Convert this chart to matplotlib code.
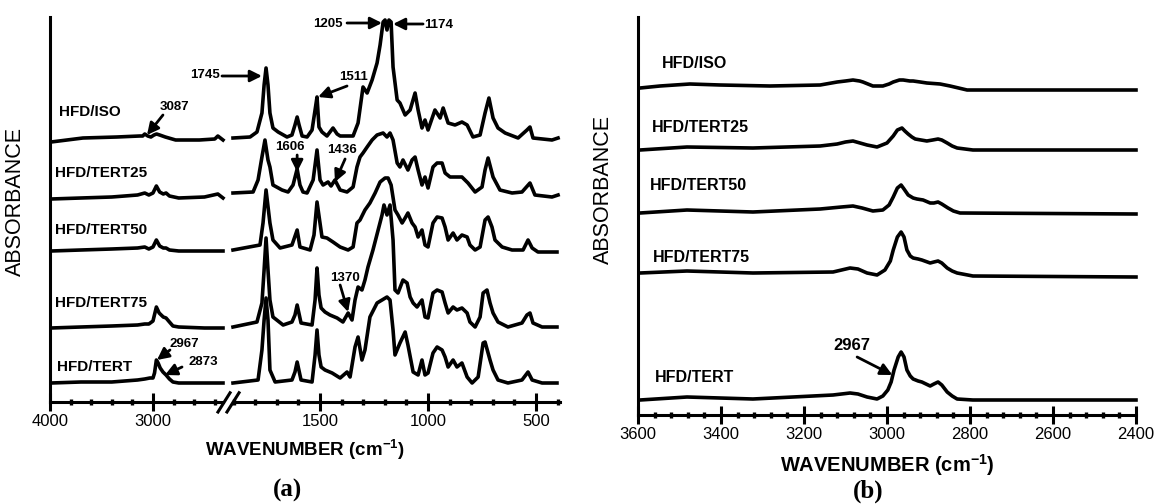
import matplotlib
matplotlib.use("Agg")
import matplotlib.pyplot as plt
import numpy as np

plt.rcParams['font.family'] = ['Liberation Sans', 'DejaVu Sans']
plt.rcParams['mathtext.fontset'] = 'custom'
plt.rcParams['mathtext.rm'] = 'Liberation Sans'
plt.rcParams['mathtext.bf'] = 'Liberation Sans:bold'

names = ['HFD/ISO', 'HFD/TERT25', 'HFD/TERT50', 'HFD/TERT75', 'HFD/TERT']
# vertical stacking of the spectra (a.u.)
offsets_a = [262, 205, 150, 75, 19]
offsets_b = [327, 265, 202, 142, 15]

# ---- (a) 4000-2320 cm-1 ----
iso_hi_wn = [3990, 3680, 3350, 3130, 3100, 3080, 3050, 3020, 2990, 2965, 2935, 2880, 2780, 2550, 2400, 2370, 2320]
iso_hi_abs = [-2, 2, 3, 4, 4, 6, 4, 3, 5, 6, 5, 3, 0, 0, 1, 4, 0]
t25_hi_wn = [3990, 3700, 3400, 3150, 3080, 3040, 3000, 2967, 2935, 2900, 2873, 2840, 2750, 2500, 2370, 2320]
t25_hi_abs = [-2, -1, 0, 2, 4, 2, 4, 11, 5, 3, 4, 1, -1, 0, 3, -1]
t50_hi_wn = [3990, 3700, 3400, 3150, 3080, 3040, 3000, 2967, 2935, 2900, 2873, 2840, 2750, 2500, 2320]
t50_hi_abs = [1, 2, 3, 4, 5, 3, 5, 12, 6, 4, 4, 2, 1, 1, 1]
t75_hi_wn = [3990, 3700, 3400, 3150, 3080, 3040, 3000, 2967, 2940, 2920, 2900, 2873, 2840, 2806, 2750, 2500, 2320]
t75_hi_abs = [-1, 0, 1, 2, 3, 3, 6, 20, 14, 12, 10, 9, 5, 1, 0, -1, -1]
tert_hi_wn = [3990, 3700, 3400, 3150, 3080, 3030, 3000, 2985, 2967, 2950, 2930, 2903, 2873, 2840, 2806, 2750, 2500, 2320]
tert_hi_abs = [0, 1, 1, 3, 4, 5, 5, 10, 23, 20, 15, 11, 8, 4, 1, 0, 0, 0]

# ---- (a) 1900-400 cm-1 ----
iso_lo_wn = [1903, 1824, 1792, 1769, 1759, 1750, 1741, 1732, 1718, 1694, 1653, 1630, 1616, 1606, 1597, 1583, 1560,
             1537, 1523, 1514, 1505, 1491, 1468, 1440, 1421, 1407, 1347, 1324, 1301, 1282, 1259, 1236, 1222, 1208,
             1199, 1190, 1181, 1171, 1162, 1143, 1130, 1106, 1083, 1060, 1046, 1028, 1014, 1000, 968, 944, 930, 907,
             875, 843, 819, 792, 759, 736, 718, 699, 676, 643, 583, 542, 528, 514, 426, 398]
iso_lo_abs = [2, 3, 8, 27, 55, 72, 55, 27, 12, 8, 3, 5, 15, 23, 15, 4, 3, 10, 30, 43, 13, 8, 4, 12, 6, 4, 4, 17, 53,
              47, 60, 77, 95, 118, 120, 110, 120, 118, 73, 40, 37, 25, 30, 47, 30, 12, 20, 10, 30, 22, 32, 17, 15, 18,
              15, 3, 5, 27, 42, 22, 12, 7, 2, 10, 13, 2, 0, 2]
t25_lo_wn = [1903, 1810, 1787, 1769, 1755, 1741, 1732, 1718, 1676, 1648, 1625, 1606, 1593, 1579, 1560, 1532, 1514,
             1500, 1486, 1463, 1449, 1431, 1407, 1375, 1347, 1329, 1315, 1301, 1282, 1259, 1236, 1208, 1190, 1176,
             1162, 1143, 1130, 1116, 1093, 1074, 1060, 1046, 1028, 1014, 1000, 977, 958, 935, 921, 898, 866, 843,
             815, 782, 750, 736, 722, 699, 667, 611, 565, 528, 505, 426, 398]
t25_lo_abs = [4, 5, 17, 40, 57, 37, 30, 12, 7, 5, 12, 28, 12, 5, 4, 17, 47, 17, 12, 15, 11, 17, 7, 5, 10, 30, 40, 44,
              50, 57, 62, 64, 60, 64, 57, 34, 30, 37, 27, 37, 40, 27, 12, 20, 9, 30, 34, 34, 24, 20, 20, 20, 14, 5,
              10, 27, 39, 20, 7, 4, 5, 14, 2, 0, 2]
t50_lo_wn = [1903, 1778, 1764, 1750, 1732, 1718, 1685, 1630, 1606, 1593, 1546, 1528, 1514, 1491, 1468, 1440, 1407,
             1370, 1347, 1329, 1315, 1292, 1269, 1245, 1222, 1199, 1185, 1171, 1153, 1139, 1120, 1106, 1093, 1074,
             1060, 1046, 1028, 1014, 1000, 977, 958, 935, 921, 907, 884, 866, 843, 819, 806, 782, 759, 736, 722,
             704, 690, 657, 611, 560, 537, 518, 491, 403]
t50_lo_abs = [2, 7, 29, 62, 29, 12, 4, 7, 22, 5, 2, 17, 50, 15, 14, 10, 5, 2, 5, 29, 32, 42, 49, 59, 70, 74, 74, 67,
              42, 37, 29, 34, 39, 29, 25, 15, 22, 7, 5, 29, 35, 34, 25, 12, 19, 12, 17, 15, 7, 2, 5, 32, 35, 25, 12,
              5, 2, 2, 12, 4, 0, 0]
t75_lo_wn = [1903, 1792, 1769, 1759, 1750, 1741, 1732, 1718, 1671, 1630, 1616, 1606, 1588, 1537, 1523, 1514, 1505,
             1495, 1477, 1454, 1421, 1394, 1370, 1352, 1338, 1324, 1306, 1292, 1278, 1255, 1231, 1213, 1204, 1190,
             1176, 1162, 1153, 1139, 1116, 1097, 1083, 1069, 1051, 1028, 1014, 1000, 977, 958, 935, 921, 907, 884,
             866, 843, 819, 806, 782, 759, 745, 727, 713, 699, 676, 630, 565, 542, 528, 514, 472, 403]
t75_lo_abs = [0, 5, 24, 57, 89, 57, 27, 10, 2, 5, 12, 22, 4, 2, 27, 59, 32, 19, 15, 12, 9, 5, 14, 7, 27, 40, 37, 47,
              60, 77, 97, 112, 122, 112, 122, 87, 37, 34, 47, 44, 30, 24, 20, 27, 10, 9, 34, 37, 35, 24, 14, 20, 17,
              19, 14, 5, 0, 10, 34, 37, 24, 14, 5, 0, 4, 12, 14, 4, 0, 0]
tert_lo_wn = [1903, 1787, 1769, 1759, 1750, 1741, 1732, 1708, 1630, 1616, 1606, 1588, 1537, 1523, 1514, 1505, 1495,
              1477, 1444, 1407, 1375, 1361, 1338, 1324, 1306, 1292, 1269, 1236, 1213, 1190, 1176, 1162, 1153, 1130,
              1106, 1093, 1069, 1046, 1028, 1014, 1000, 977, 958, 935, 921, 907, 884, 866, 843, 819, 796, 768, 745,
              736, 713, 699, 676, 630, 565, 537, 518, 472, 403]
tert_lo_abs = [0, 3, 33, 63, 85, 63, 13, 1, 3, 11, 21, 3, 1, 28, 53, 28, 16, 13, 10, 5, 11, 6, 36, 46, 23, 33, 66,
               80, 83, 86, 83, 53, 28, 40, 51, 38, 11, 8, 23, 8, 10, 30, 36, 33, 26, 16, 23, 16, 20, 6, 0, 6, 40, 41,
               23, 13, 3, 0, 3, 11, 3, 0, 0]

# ---- (b) 3600-2400 cm-1 ----
iso_b_wn = [3595, 3547, 3475, 3402, 3282, 3161, 3120, 3100, 3082, 3066, 3058, 3034, 3010, 2995, 2985, 2970, 2961,
            2945, 2937, 2920, 2904, 2872, 2860, 2848, 2807, 2720, 2400]
iso_b_abs = [0, 2, 4, 3, 2, 3, 6, 7, 8, 7, 6, 2, 2, 4, 6, 8, 8, 7, 7, 6, 5, 4, 3, 2, -2, -2, -2]
t25_b_wn = [3595, 3482, 3323, 3161, 3120, 3100, 3082, 3065, 3048, 3024, 3000, 2985, 2975, 2964, 2957, 2949, 2940,
            2932, 2904, 2890, 2877, 2868, 2855, 2843, 2831, 2793, 2400]
t25_b_abs = [0, 3, 2, 4, 6, 8, 9, 7, 5, 3, 7, 14, 20, 22, 19, 16, 13, 11, 9, 10, 11, 10, 7, 4, 2, 0, 0]
t50_b_wn = [3595, 3482, 3323, 3161, 3110, 3082, 3060, 3034, 3010, 2995, 2985, 2975, 2966, 2959, 2949, 2937, 2928,
            2913, 2896, 2887, 2877, 2868, 2853, 2840, 2824, 2400]
t50_b_abs = [0, 3, 1, 4, 6, 7, 5, 2, 3, 8, 16, 25, 28, 24, 18, 15, 14, 13, 10, 10, 11, 9, 5, 2, 0, -1]
t75_b_wn = [3595, 3482, 3323, 3130, 3089, 3070, 3048, 3024, 3005, 2992, 2985, 2975, 2966, 2959, 2952, 2944, 2937,
            2925, 2916, 2896, 2887, 2877, 2868, 2855, 2843, 2831, 2793, 2400]
t75_b_abs = [0, 2, 0, 1, 5, 4, 0, -2, 3, 12, 23, 36, 41, 36, 23, 17, 15, 14, 13, 10, 11, 12, 10, 5, 2, 0, -3, -4]
tert_b_wn = [3595, 3482, 3323, 3130, 3089, 3070, 3048, 3024, 3010, 2998, 2990, 2983, 2973, 2966, 2959, 2952, 2944,
             2937, 2925, 2916, 2896, 2887, 2877, 2868, 2855, 2843, 2831, 2793, 2400]
tert_b_abs = [0, 3, 1, 5, 7, 6, 3, 1, 4, 10, 18, 30, 43, 48, 43, 30, 24, 21, 19, 18, 14, 16, 18, 15, 8, 4, 1, 0, 0]

hi = [(iso_hi_wn, iso_hi_abs), (t25_hi_wn, t25_hi_abs), (t50_hi_wn, t50_hi_abs),
      (t75_hi_wn, t75_hi_abs), (tert_hi_wn, tert_hi_abs)]
lo = [(iso_lo_wn, iso_lo_abs), (t25_lo_wn, t25_lo_abs), (t50_lo_wn, t50_lo_abs),
      (t75_lo_wn, t75_lo_abs), (tert_lo_wn, tert_lo_abs)]
spec_b = [(iso_b_wn, iso_b_abs), (t25_b_wn, t25_b_abs), (t50_b_wn, t50_b_abs),
          (t75_b_wn, t75_b_abs), (tert_b_wn, tert_b_abs)]

W, H = 1156, 504
fig = plt.figure(figsize=(W / 100, H / 100), dpi=100)


def px_axes(x0, x1, ytop, ybot):
    return fig.add_axes([x0 / W, 1 - ybot / H, (x1 - x0) / W, (ybot - ytop) / H])


ax_hi = px_axes(50, 223, 17, 402)
ax_lo = px_axes(233, 560, 17, 402)
ax_b = px_axes(638, 1136, 17, 415)

LW = 2.6
for ax in (ax_hi, ax_lo, ax_b):
    for s in ('top', 'right'):
        ax.spines[s].set_visible(False)
    ax.spines['bottom'].set_linewidth(2.2)
    ax.spines['left'].set_linewidth(2.2)
    ax.tick_params(axis='y', left=False, labelleft=False)
    ax.tick_params(axis='x', which='major', direction='inout', length=13, width=2.2,
                   labelsize=12, pad=2)
    ax.tick_params(axis='x', which='minor', direction='inout', length=4.5, width=2.4)
ax_lo.spines['left'].set_visible(False)

for (wn, a), off in zip(hi, offsets_a):
    ax_hi.plot(wn, np.array(a) + off, color='k', lw=LW, solid_joinstyle='round', clip_on=False)
for (wn, a), off in zip(lo, offsets_a):
    ax_lo.plot(wn, np.array(a) + off, color='k', lw=LW, solid_joinstyle='round', clip_on=False)
for (wn, a), off in zip(spec_b, offsets_b):
    ax_b.plot(wn, np.array(a) + off, color='k', lw=LW, solid_joinstyle='round', clip_on=False)

ax_hi.set_xlim(4000, 2320)
ax_lo.set_xlim(1903, 389)
ax_b.set_xlim(3600, 2400)
ax_hi.set_ylim(0, 385)
ax_lo.set_ylim(0, 385)
ax_b.set_ylim(0, 398)

ax_hi.set_xticks([4000, 3000])
ax_hi.set_xticks([3800, 3600, 3400, 3200, 2800, 2600, 2400], minor=True)
ax_lo.set_xticks([1500, 1000, 500])
ax_lo.set_xticks([w for w in range(1900, 399, -100) if w % 500], minor=True)
ax_b.set_xticks(np.arange(3600, 2399, -200))
ax_b.set_xticks([w for w in range(3600, 2399, -40) if w % 200], minor=True)

# axis break marks
for dx in (0, 0.0275):
    ax_lo.plot([-0.046 + dx, -0.009 + dx], [-0.026, 0.024], transform=ax_lo.transAxes,
               color='k', lw=2.2, clip_on=False)

arrow = dict(arrowstyle='-|>,head_length=0.5,head_width=0.25', color='k', lw=2,
             shrinkA=0, shrinkB=0, mutation_scale=14)
lab = dict(fontsize=11, fontweight='bold', va='center', ha='left')
lab_b = dict(fontsize=11.5, fontweight='bold', va='center', ha='left')
pk = dict(fontsize=9.5, fontweight='bold', va='center', ha='center')

# sample labels (a)
ax_hi.text(3913, 290, names[0], **lab)
ax_hi.text(3951, 229, names[1], **lab)
ax_hi.text(3951, 172, names[2], **lab)
ax_hi.text(3951, 99, names[3], **lab)
ax_hi.text(3932, 35, names[4], **lab)

# peak labels (a), high range
ax_hi.text(2790, 295, '3087', **pk)
ax_hi.annotate('', xy=(3058, 267), xytext=(2903, 287), arrowprops=arrow, annotation_clip=False)
ax_hi.text(2700, 58, '2967', **pk)
ax_hi.annotate('', xy=(2961, 42), xytext=(2835, 52), arrowprops=arrow, annotation_clip=False)
ax_hi.text(2510, 40, '2873', **pk)
ax_hi.annotate('', xy=(2883, 27), xytext=(2718, 35), arrowprops=arrow, annotation_clip=False)

# peak labels (a), low range
ax_lo.text(1963, 327, '1745', fontsize=9.5, fontweight='bold', va='center', ha='right')
ax_lo.annotate('', xy=(1769, 326), xytext=(1954, 326), arrowprops=arrow, annotation_clip=False)
ax_lo.text(1639, 255, '1606', **pk)
ax_lo.annotate('', xy=(1606, 230), xytext=(1606, 247), arrowprops=arrow, annotation_clip=False)
ax_lo.text(1398, 252, '1436', **pk)
ax_lo.annotate('', xy=(1431, 220), xytext=(1384, 243), arrowprops=arrow, annotation_clip=False)
ax_lo.text(1347, 325, '1511', **pk)
ax_lo.annotate('', xy=(1509, 305), xytext=(1375, 316), arrowprops=arrow, annotation_clip=False)
ax_lo.text(1463, 378, '1205', **pk)
ax_lo.annotate('', xy=(1213, 379), xytext=(1375, 379), arrowprops=arrow, annotation_clip=False)
ax_lo.text(949, 377, '1174', **pk)
ax_lo.annotate('', xy=(1162, 378), xytext=(1023, 378), arrowprops=arrow, annotation_clip=False)
ax_lo.text(1384, 124, '1370', **pk)
ax_lo.annotate('', xy=(1370, 90), xytext=(1407, 117), arrowprops=arrow, annotation_clip=False)

# labels (b)
ax_b.text(3542, 352, names[0], **lab_b)
ax_b.text(3566, 288, names[1], **lab_b)
ax_b.text(3571, 230, names[2], **lab_b)
ax_b.text(3564, 157, names[3], **lab_b)
ax_b.text(3559, 37, names[4], **lab_b)
ax_b.text(3084, 70, '2967', fontsize=12, fontweight='bold', va='center', ha='center')
ax_b.annotate('', xy=(2987, 40), xytext=(3072, 58), arrowprops=arrow, annotation_clip=False)

xlabel = 'WAVENUMBER (cm$^{\\mathbf{-1}}$)'
fig.text(15 / W, 1 - 202 / H, 'ABSORBANCE', rotation=90, fontsize=15.5, ha='center', va='center')
fig.text(603 / W, 1 - 190 / H, 'ABSORBANCE', rotation=90, fontsize=15.5, ha='center', va='center')
fig.text(305 / W, 1 - 450 / H, xlabel, fontsize=13.5, fontweight='bold', ha='center', va='center')
fig.text(887 / W, 1 - 465 / H, xlabel, fontsize=14.5, fontweight='bold', ha='center', va='center')
fig.text(288 / W, 1 - 490 / H, '(a)', family='Liberation Serif', fontweight='bold', fontsize=18,
         ha='center', va='center')
fig.text(868 / W, 1 - 491 / H, '(b)', family='Liberation Serif', fontweight='bold', fontsize=18,
         ha='center', va='center')

fig.savefig('out.png', dpi=100)
